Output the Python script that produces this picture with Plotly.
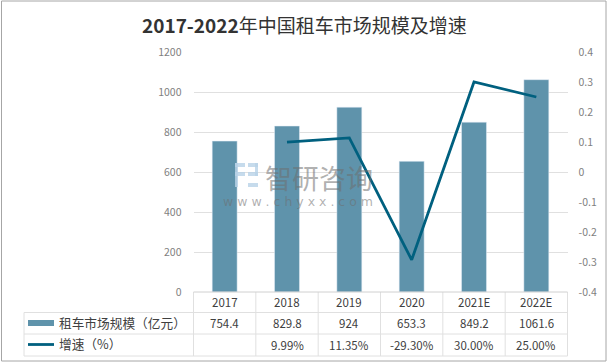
import plotly.graph_objects as go

categories = ["2017", "2018", "2019", "2020", "2021E", "2022E"]
market_size = [754.4, 829.8, 924, 653.3, 849.2, 1061.6]
growth = [None, 0.0999, 0.1135, -0.2930, 0.30, 0.25]
size_labels = ["754.4", "829.8", "924", "653.3", "849.2", "1061.6"]
growth_labels = ["", "9.99%", "11.35%", "-29.30%", "30.00%", "25.00%"]
series_names = ["租车市场规模（亿元）", "增速（%）"]
title_text = "<b>2017-2022</b>年中国租车市场规模及增速"
right_tick_values = [-0.4, -0.3, -0.2, -0.1, 0, 0.1, 0.2, 0.3, 0.4]
right_tick_labels = ["-0.4", "-0.3", "-0.2", "-0.1", "0", "0.1", "0.2", "0.3", "0.4"]
watermark_name = "智研咨询"
watermark_url = "w w w . c h y x x . c o m"

W, H = 608, 364
BAR = "#5f93ab"
LINE = "#00607f"
GRID = "#e0e0e0"
TXT = "#404040"
AX = "#7f7f7f"
FONT = "Noto Sans CJK SC"
L, R, T, B = 193.5, 567.5, 52, 292
ROWS = [312.5, 334, 356]
TL = 24


def px(x):
    return x / W


def py(y):
    return 1 - y / H


fig = go.Figure()
fig.add_bar(x=categories, y=market_size, name=series_names[0], marker_color=BAR,
            width=0.4, yaxis="y", showlegend=False)
fig.add_scatter(x=categories, y=growth, name=series_names[1], mode="lines",
                line=dict(color=LINE, width=2.8), yaxis="y2", showlegend=False)

shapes = []


def line(x0, y0, x1, y1, color=GRID, width=1):
    shapes.append(dict(type="line", xref="paper", yref="paper", x0=px(x0), y0=py(y0),
                       x1=px(x1), y1=py(y1), line=dict(color=color, width=width)))


def rect(x0, y0, x1, y1, fill, line_color=None, opacity=1, layer="above"):
    shapes.append(dict(type="rect", xref="paper", yref="paper", x0=px(x0), y0=py(y0),
                       x1=px(x1), y1=py(y1), fillcolor=fill, opacity=opacity, layer=layer,
                       line=dict(color=line_color or "rgba(0,0,0,0)", width=1)))


rect(1.5, 1, W - 2, H - 3, "rgba(0,0,0,0)", "#a6a6a6")
# table
step = (R - L) / 6
for i in range(7):
    line(L + i * step, B, L + i * step, ROWS[2])
line(TL, ROWS[0], TL, ROWS[2])
line(L, B, R, B, "#d0d0d0")
for r in ROWS:
    line(TL, r, R, r)
rect(28, 320, 54, 326, BAR)
line(28, 344.5, 54, 344.5, LINE, 2.8)
# watermark logo
rect(235, 163, 245, 167, "#b9d3e8", opacity=.8)
rect(235, 172, 245, 176, "#b9d3e8", opacity=.8)
rect(235, 163, 238, 187, "#b9d3e8", opacity=.8)
rect(248, 163, 258, 167, "#b9d3e8", opacity=.8)
rect(248, 172, 258, 176, "#b9d3e8", opacity=.8)
rect(248, 183, 258, 187, "#b9d3e8", opacity=.8)
rect(255, 163, 258, 176, "#b9d3e8", opacity=.8)

ann = []


def text(x, y, s, size=11, color=TXT, anchor="center", fam=FONT, align="center"):
    ann.append(dict(xref="paper", yref="paper", x=px(x), y=py(y), text=s, showarrow=False,
                    xanchor=anchor, yanchor="middle", align=align,
                    font=dict(size=size, color=color, family=fam)))


text(W / 2, 25, title_text, 19, "#333333")
for i, c in enumerate(categories):
    cx = L + (i + .5) * step
    text(cx, 302, c, 11.5)
    text(cx, 322.5, size_labels[i], 11.5)
    if growth_labels[i]:
        text(cx, 344.5, growth_labels[i], 11.5)
text(57, 322, series_names[0], 12.7, anchor="left")
text(57, 343.5, series_names[1], 12.7, anchor="left")
text(375, 183,
     f'<span style="font-size:27px">{watermark_name}</span><br>'
     f'<span style="font-size:12.5px;font-family:DejaVu Sans">{watermark_url}</span>',
     13, "rgba(110,110,110,.55)", anchor="right", align="right")

fig.update_layout(
    width=W, height=H, autosize=False, margin=dict(l=0, r=0, t=0, b=0),
    paper_bgcolor="white", plot_bgcolor="white", shapes=shapes, annotations=ann,
    font=dict(family=FONT, size=11, color=AX),
    xaxis=dict(domain=[px(L), px(R)], showticklabels=False, showgrid=False, zeroline=False,
               ticks="", range=[-0.5, 5.5], type="category", categoryorder="array",
               categoryarray=categories, automargin=False),
    yaxis=dict(domain=[py(B), py(T)], range=[0, 1200], dtick=200, gridcolor=GRID, gridwidth=1,
               zeroline=False, ticks="", ticklabelstandoff=11, automargin=False,
               tickfont=dict(size=10.5, color=AX)),
    yaxis2=dict(overlaying="y", side="right", range=[-0.4, 0.4], tickvals=right_tick_values,
                ticktext=right_tick_labels, showgrid=False,
                zeroline=False, ticks="", ticklabelstandoff=10, automargin=False,
                tickfont=dict(size=10.5, color=AX)),
)
fig.write_html("out.html", config={"displayModeBar": False},
               post_script="document.documentElement.style.margin='0';document.body.style.margin='0';document.body.style.overflow='hidden';")
